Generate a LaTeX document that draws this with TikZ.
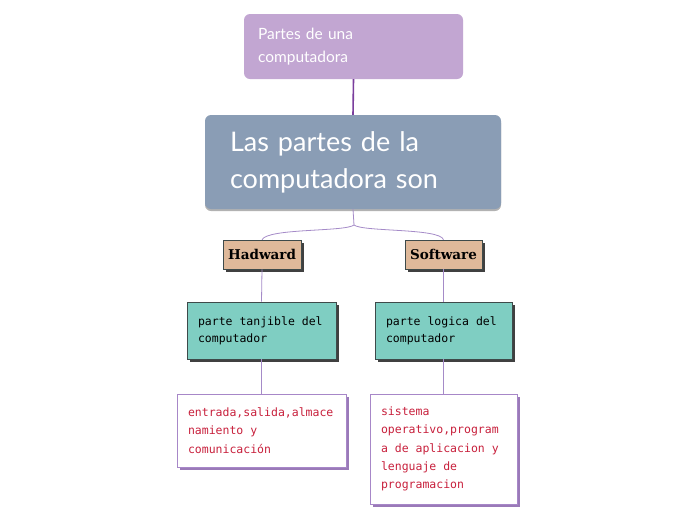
\documentclass[tikz,border=0pt]{standalone}
\usepackage{fontspec}
\setmainfont{Lato}
\newfontfamily\monof{DejaVu Sans Mono}
\newfontfamily\slabf{DejaVu Serif}
\newcommand\msp{\hspace{0.602em}}
\usetikzlibrary{shadows}
\definecolor{topfill}{HTML}{C2A6D2}
\definecolor{mainfill}{HTML}{8A9DB5}
\definecolor{tanfill}{HTML}{DFB99A}
\definecolor{tealfill}{HTML}{7FCEC2}
\definecolor{redtext}{HTML}{C8203C}
\definecolor{purpborder}{HTML}{A787C8}
\definecolor{purpshadow}{HTML}{9A7AB8}
\definecolor{topline}{HTML}{7A3E9D}
\definecolor{thinline}{HTML}{A58BC8}
\definecolor{darkborder}{HTML}{3E4A4A}
\tikzset{
  topbox/.style={rectangle, rounded corners=6pt, fill=topfill, text=white, minimum width=219pt, minimum height=65pt, text width=191pt, align=left, inner xsep=14pt, font=\fontsize{15.5}{23}\selectfont},
  mainbox/.style={rectangle, rounded corners=6pt, fill=mainfill, text=white, minimum width=296pt, minimum height=94pt, text width=246pt, align=left, inner xsep=25pt, font=\fontsize{27}{37}\selectfont, drop shadow={shadow xshift=0pt, shadow yshift=-2pt, opacity=0.3, fill=black}},
  catbox/.style={rectangle, fill=tanfill, draw=darkborder, line width=0.6pt, minimum height=29pt, inner sep=0pt, font=\slabf\bfseries\fontsize{13.5}{15}\selectfont, drop shadow={shadow xshift=2.5pt, shadow yshift=-2.5pt, opacity=1, fill=black!75}},
  tealbox/.style={rectangle, fill=tealfill, draw=darkborder, line width=0.6pt, minimum height=57pt, align=left, inner xsep=11pt, font=\monof\fontsize{11.5}{17}\selectfont, drop shadow={shadow xshift=2.5pt, shadow yshift=-2.5pt, opacity=1, fill=black!75}},
  leafbox/.style={rectangle, fill=white, draw=purpborder, line width=1pt, align=left, inner xsep=11pt, text=redtext, font=\monof\fontsize{11.5}{18.3}\selectfont, drop shadow={shadow xshift=3pt, shadow yshift=-3pt, opacity=1, fill=purpshadow}},
  thick link/.style={draw=topline, line width=1.6pt},
  thin link/.style={draw=thinline, line width=0.8pt},
}
\begin{document}
\begin{tikzpicture}[x=1pt, y=-1pt]
\useasboundingbox (0,0) rectangle (696,520);
\fill[white] (0,0) rectangle (696,520);

\coordinate (split) at (354,225);

\node[topbox] (top) at (353.5,46.5) {Partes de una\\computadora};
\node[mainbox] (main) at (353,162) {Las partes de la\\computadora son};
\draw[thick link] (top.south) -- (main.north);

\node[catbox, minimum width=78pt] (hw) at (262,254.5) {Hadward};
\node[catbox, minimum width=77pt] (sw) at (443.5,254.5) {Software};

\node[tealbox, minimum width=149pt, text width=127pt] (tan) at (261.5,330.5) {parte\msp tanjible\msp del\\computador};
\node[tealbox, minimum width=137pt, text width=115pt] (log) at (443.5,330.5) {parte\msp logica\msp del\\computador};

\node[leafbox, minimum width=169pt, minimum height=73pt, text width=147pt] (io) at (261.5,430.5) {entrada,salida,almace\\namiento\msp y\\comunicación};
\node[leafbox, minimum width=147pt, minimum height=110pt, text width=125pt] (sys) at (443.5,449) {sistema\\operativo,program\\a\msp de\msp aplicacion\msp y\\lenguaje\msp de\\programacion};

\draw[thin link] (main.south) -- (split);
\draw[thin link] (split) .. controls (345,232) and (268,228) .. (hw.north);
\draw[thin link] (split) .. controls (363,232) and (440,228) .. (sw.north);
\draw[thin link] (hw.south) -- (tan.north);
\draw[thin link] (sw.south) -- (log.north);
\draw[thin link] (tan.south) -- (io.north);
\draw[thin link] (log.south) -- (sys.north);
\end{tikzpicture}
\end{document}
